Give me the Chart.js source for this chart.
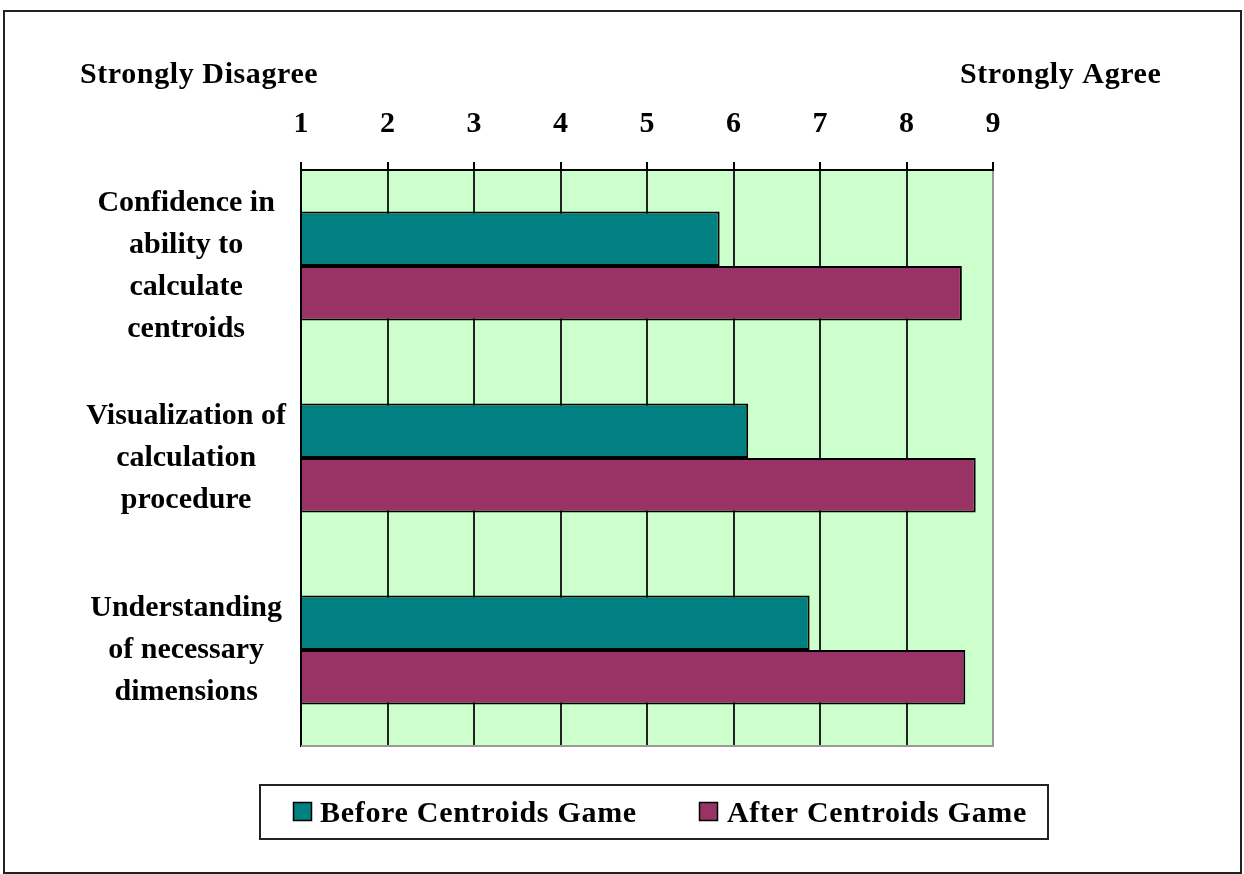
<!DOCTYPE html>
<html>
<head>
<meta charset="utf-8">
<title>Centroids Game survey</title>
<script src="https://cdn.jsdelivr.net/npm/chart.js@4.4.0/dist/chart.umd.min.js"></script>
<style>
  html, body { margin: 0; padding: 0; background: #ffffff; }
  #wrap { width: 1244px; height: 874px; }
</style>
</head>
<body>
<div id="wrap"><canvas id="surveyChart" width="1244" height="874"></canvas></div>
<script>
// Survey questions (multi-line category labels)
const categories = [
    ['Confidence in', 'ability to', 'calculate', 'centroids'],
    ['Visualization of', 'calculation', 'procedure'],
    ['Understanding', 'of necessary', 'dimensions']
];
// Mean ratings (1 = strongly disagree, 9 = strongly agree)
const beforeScores = [5.84, 6.17, 6.88];
const afterScores = [8.64, 8.80, 8.68];
const seriesNames = ['Before Centroids Game', 'After Centroids Game'];
const scaleEndLabels = ['Strongly Disagree', 'Strongly Agree'];
const scaleMin = 1;
const scaleMax = 9;

const FONT = '"Liberation Serif", "Times New Roman", serif';
const TEAL = '#008080';
const MAROON = '#993366';

// Outer frame + plot background
const framePlugin = {
    id: 'frame',
    beforeDraw(chart) {
        const ctx = chart.ctx;
        const a = chart.chartArea;
        ctx.save();
        ctx.fillStyle = '#ffffff';
        ctx.fillRect(0, 0, chart.width, chart.height);
        ctx.strokeStyle = '#222222';
        ctx.lineWidth = 2;
        ctx.strokeRect(4, 11, 1237, 862);
        ctx.fillStyle = '#CCFFCC';
        ctx.fillRect(a.left, a.top, a.right - a.left, a.bottom - a.top);
        ctx.restore();
    },
    beforeDatasetsDraw(chart) {
        // grey bottom edge of the plot area
        const ctx = chart.ctx;
        const a = chart.chartArea;
        ctx.save();
        ctx.strokeStyle = '#999999';
        ctx.lineWidth = 2;
        ctx.beginPath();
        ctx.moveTo(a.left, a.bottom);
        ctx.lineTo(a.right + 1, a.bottom);
        ctx.stroke();
        ctx.restore();
    }
};

// "Strongly Disagree" / "Strongly Agree" above the scale + boxed legend
const annotationPlugin = {
    id: 'annotations',
    afterDraw(chart) {
        const ctx = chart.ctx;
        ctx.save();
        ctx.fillStyle = '#000000';
        ctx.font = 'bold 30px ' + FONT;
        ctx.textBaseline = 'alphabetic';
        ctx.textAlign = 'left';
        ctx.letterSpacing = '0.6px';
        ctx.fillText(scaleEndLabels[0], 80, 83);
        ctx.fillText(scaleEndLabels[1], 960, 83);

        // legend box
        ctx.strokeStyle = '#222222';
        ctx.lineWidth = 2;
        ctx.strokeRect(260, 785, 788, 54);
        const markerX = [293, 699];
        const textX = [320, 727];
        ctx.letterSpacing = '0.7px';
        chart.data.datasets.forEach((ds, i) => {
            ctx.fillStyle = ds.backgroundColor;
            ctx.fillRect(markerX[i], 802, 19, 19);
            ctx.strokeStyle = '#000000';
            ctx.lineWidth = 1.5;
            ctx.strokeRect(markerX[i] + 0.5, 802.5, 18, 18);
            ctx.fillStyle = '#000000';
            ctx.font = 'bold 30px ' + FONT;
            ctx.fillText(ds.label, textX[i], 822);
        });
        ctx.restore();
    }
};

const config = {
    type: 'bar',
    data: {
        labels: categories,
        datasets: [
            {
                label: seriesNames[0],
                data: beforeScores,
                backgroundColor: TEAL,
                borderColor: '#000000',
                borderWidth: 2,
                base: scaleMin
            },
            {
                label: seriesNames[1],
                data: afterScores,
                backgroundColor: MAROON,
                borderColor: '#000000',
                borderWidth: 2,
                base: scaleMin
            }
        ]
    },
    options: {
        indexAxis: 'y',
        responsive: false,
        animation: false,
        devicePixelRatio: 1,
        datasets: {
            bar: {
                categoryPercentage: 0.568,
                barPercentage: 1.0
            }
        },
        layout: {
            padding: { top: 100, right: 251, bottom: 128, left: 0 }
        },
        plugins: {
            legend: { display: false },
            title: { display: false },
            tooltip: { enabled: false }
        },
        scales: {
            x: {
                position: 'top',
                min: scaleMin,
                max: scaleMax,
                afterFit(scale) { scale.height = 70; },
                grid: {
                    color: (c) => (c.tick && c.tick.value === scaleMax) ? '#999999' : '#222222',
                    lineWidth: 2,
                    drawTicks: true,
                    tickLength: 8,
                    tickColor: '#000000',
                    tickWidth: 2
                },
                border: { display: true, color: '#000000', width: 2 },
                ticks: {
                    stepSize: 1,
                    padding: 20,
                    color: '#000000',
                    font: { family: FONT, size: 30, weight: 'bold' }
                }
            },
            y: {
                afterFit(scale) { scale.width = 301; },
                grid: { display: false, drawTicks: false },
                border: { display: true, color: '#000000', width: 2 },
                ticks: {
                    crossAlign: 'center',
                    padding: 15,
                    autoSkip: false,
                    color: '#000000',
                    font: { family: FONT, size: 30, weight: 'bold', lineHeight: 1.4 }
                }
            }
        }
    },
    plugins: [framePlugin, annotationPlugin]
};

window.surveyChart = new Chart(document.getElementById('surveyChart'), config);
</script>
</body>
</html>
